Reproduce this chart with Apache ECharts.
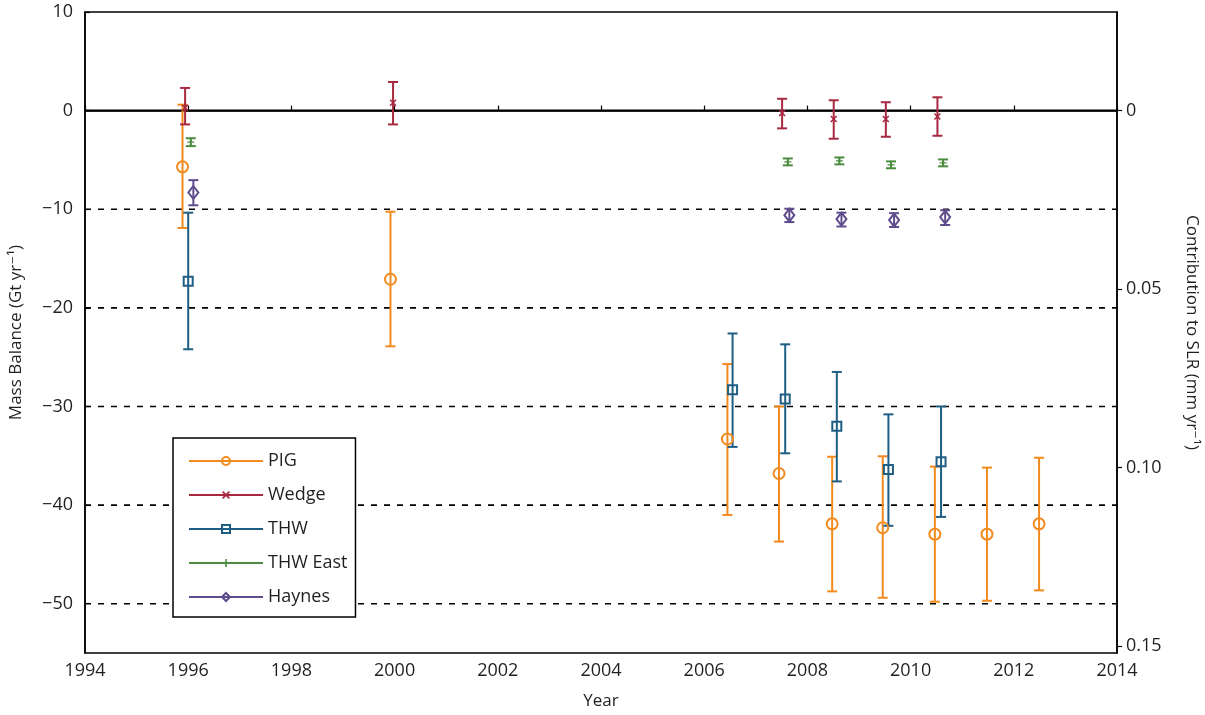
<!DOCTYPE html>
<html>
<head>
<meta charset="utf-8">
<script src="https://cdn.jsdelivr.net/npm/echarts@6/dist/echarts.min.js"></script>
<style>html,body{margin:0;padding:0;background:#fff}#c{width:1205px;height:715px}</style>
</head>
<body>
<div id="c"></div>
<script>
// ---- data ----
const pigYear = [1995.89, 1999.92, 2006.45, 2007.45, 2008.48, 2009.46, 2010.47, 2011.48, 2012.49];
const pigMB   = [-5.7, -17.1, -33.3, -36.8, -41.9, -42.3, -42.95, -42.95, -41.9];
const pigHi   = [0.6, -10.25, -25.7, -30.0, -35.1, -35.05, -36.1, -36.2, -35.2];
const pigLo   = [-11.9, -23.9, -41.0, -43.7, -48.75, -49.4, -49.8, -49.7, -48.65];

const wedgeYear = [1995.94, 1999.97, 2007.51, 2008.51, 2009.52, 2010.52];
const wedgeMB   = [0.3, 0.8, -0.25, -0.85, -0.85, -0.6];
const wedgeHi   = [2.3, 2.9, 1.2, 1.05, 0.85, 1.35];
const wedgeLo   = [-1.4, -1.4, -1.8, -2.85, -2.65, -2.55];

const thwYear = [1996.0, 2006.55, 2007.57, 2008.57, 2009.57, 2010.59];
const thwMB   = [-17.3, -28.3, -29.25, -32.0, -36.4, -35.6];
const thwHi   = [-10.35, -22.6, -23.7, -26.5, -30.8, -30.0];
const thwLo   = [-24.2, -34.1, -34.75, -37.6, -42.1, -41.2];

const eastYear = [1996.05, 2007.62, 2008.62, 2009.62, 2010.63];
const eastMB   = [-3.2, -5.2, -5.1, -5.5, -5.3];
const eastHi   = [-2.8, -4.85, -4.75, -5.15, -4.95];
const eastLo   = [-3.6, -5.55, -5.45, -5.85, -5.65];

const haynesYear = [1996.1, 2007.65, 2008.66, 2009.68, 2010.67];
const haynesMB   = [-8.3, -10.6, -11.0, -11.1, -10.8];
const haynesHi   = [-7.05, -9.95, -10.35, -10.4, -10.1];
const haynesLo   = [-9.6, -11.3, -11.75, -11.8, -11.6];

const seriesNames = ['PIG', 'Wedge', 'THW', 'THW East', 'Haynes'];
const xTicks = [1994, 1996, 1998, 2000, 2002, 2004, 2006, 2008, 2010, 2012, 2014];
const yTicks = [10, 0, -10, -20, -30, -40, -50];
const gridVals = [0, -10, -20, -30, -40, -50];
const slrTicks = [0, 0.05, 0.10, 0.15];
const GT_PER_MM = 362; // Gt of ice per mm of sea level
const yMin = -55, yMax = 10;

// ---- styling ----
const colors = {PIG:'#F28A1E', Wedge:'#A82840', THW:'#1E5E82', 'THW East':'#4C8C40', Haynes:'#5E4C8C'};
const FONT = '"Open Sans", "DejaVu Sans", sans-serif';
const TXT = '#231f20';

const groups = [
  {name:'PIG', x:pigYear, y:pigMB, hi:pigHi, lo:pigLo, symbol:'circle', size:11, hollow:true},
  {name:'Wedge', x:wedgeYear, y:wedgeMB, hi:wedgeHi, lo:wedgeLo,
   symbol:'path://M1.5,0L5,3.5L8.5,0L10,1.5L6.5,5L10,8.5L8.5,10L5,6.5L1.5,10L0,8.5L3.5,5L0,1.5Z', size:7, hollow:false},
  {name:'THW', x:thwYear, y:thwMB, hi:thwHi, lo:thwLo, symbol:'rect', size:9, hollow:true},
  {name:'THW East', x:eastYear, y:eastMB, hi:eastHi, lo:eastLo,
   symbol:'path://M4,0h2v4h4v2h-4v4h-2v-4h-4v-2h4z', size:7, hollow:false},
  {name:'Haynes', x:haynesYear, y:haynesMB, hi:haynesHi, lo:haynesLo, symbol:'diamond', size:[10,13], hollow:true}
];

function markerStyle(g) {
  const c = colors[g.name];
  return g.hollow ? {color:'rgba(0,0,0,0)', borderColor:c, borderWidth:2} : {color:c, borderWidth:0};
}

const series = [];
// grid reference lines (zero solid, others dashed)
series.push({
  type:'custom', name:'_grid', silent:true, z:1,
  data: gridVals.map(v => [xTicks[0], v]),
  renderItem: function(params, api) {
    const cs = params.coordSys;
    const y = api.coord([xTicks[0], api.value(1)])[1];
    const zero = api.value(1) === 0;
    return {type:'line', shape:{x1:cs.x, y1:y, x2:cs.x+cs.width, y2:y},
      style:{stroke:'#000', lineWidth: zero ? 2 : 1.6, lineDash: zero ? null : [6,7]}};
  }
});

groups.forEach(g => {
  const c = colors[g.name];
  series.push({
    type:'custom', name:g.name + '_err', silent:true, z:3,
    data: g.x.map((xv,i) => [xv, g.hi[i], g.lo[i]]),
    encode:{x:0, y:[1,2]},
    renderItem: function(params, api) {
      const p1 = api.coord([api.value(0), api.value(1)]);
      const p2 = api.coord([api.value(0), api.value(2)]);
      const w = 5;
      const st = {stroke:c, lineWidth:2};
      return {type:'group', children:[
        {type:'line', shape:{x1:p1[0], y1:p1[1], x2:p2[0], y2:p2[1]}, style:st},
        {type:'line', shape:{x1:p1[0]-w, y1:p1[1], x2:p1[0]+w, y2:p1[1]}, style:st},
        {type:'line', shape:{x1:p2[0]-w, y1:p2[1], x2:p2[0]+w, y2:p2[1]}, style:st}
      ]};
    }
  });
  series.push({
    type:'line', name:g.name, z:4,
    data: g.x.map((xv,i) => [xv, g.y[i]]),
    symbol:g.symbol, symbolSize:g.size, showSymbol:true, showAllSymbol:true,
    lineStyle:{color:c, opacity:0, width:0},
    itemStyle: markerStyle(g),
    emphasis:{disabled:true},
    animation:false
  });
});

const chart = echarts.init(document.getElementById('c'), null, {renderer:'canvas'});
chart.setOption({
  animation:false,
  backgroundColor:'#fff',
  textStyle:{fontFamily:FONT},
  grid:{left:85, right:88, top:12, bottom:62, outerBoundsMode:'none', containLabel:false,
        show:true, borderColor:'#000', borderWidth:1.5, backgroundColor:'transparent'},
  legend:{
    orient:'vertical', left:173, top:438,
    backgroundColor:'#fff', borderColor:'#000', borderWidth:1.5,
    padding:[13, 8, 10, 15], itemGap:14, itemWidth:74, itemHeight:10,
    textStyle:{fontSize:18, lineHeight:20, color:TXT, fontFamily:FONT},
    data: groups.map(g => ({
      name:g.name,
      lineStyle:{color:colors[g.name], width:2, opacity:1},
      itemStyle: markerStyle(g)
    }))
  },
  xAxis:{
    type:'value', min:xTicks[0], max:xTicks[xTicks.length-1], interval:2,
    name:'Year', nameLocation:'middle', nameGap:40,
    nameTextStyle:{fontSize:17, color:TXT, fontFamily:FONT},
    axisLine:{show:true, lineStyle:{color:'#000', width:1.5}},
    axisTick:{show:true, inside:true, length:5, lineStyle:{color:'#000', width:1.2}},
    axisLabel:{fontSize:18, color:TXT, margin:9, fontFamily:FONT, formatter: v => String(v)},
    splitLine:{show:false}
  },
  yAxis:[{
    type:'value', min:yMin, max:yMax, position:'left',
    name:'Mass Balance (Gt yr\u207B\u00B9)', nameLocation:'middle', nameGap:60, nameRotate:90,
    nameTextStyle:{fontSize:17, color:TXT, fontFamily:FONT},
    axisLine:{show:true, lineStyle:{color:'#000', width:1.5}},
    axisTick:{show:true, inside:true, length:5, customValues:yTicks, lineStyle:{color:'#000', width:1.2}},
    axisLabel:{fontSize:18, color:TXT, margin:12, fontFamily:FONT, customValues:yTicks,
      formatter: v => v < 0 ? '\u2212' + Math.abs(v) : String(v)},
    splitLine:{show:false}
  },{
    type:'value', inverse:true, min:-yMax/GT_PER_MM, max:-yMin/GT_PER_MM, position:'right',
    name:'Contribution to SLR (mm yr\u207B\u00B9)', nameLocation:'middle', nameGap:66, nameRotate:-90,
    nameTextStyle:{fontSize:17, color:TXT, fontFamily:FONT},
    axisLine:{show:true, lineStyle:{color:'#000', width:1.5}},
    axisTick:{show:true, inside:false, length:5, customValues:slrTicks, lineStyle:{color:'#000', width:1.2}},
    axisLabel:{fontSize:18, color:TXT, margin:9, fontFamily:FONT, customValues:slrTicks,
      formatter: v => Math.abs(v) < 1e-9 ? '0' : v.toFixed(2)},
    splitLine:{show:false}
  }],
  series: series
});
</script>
</body>
</html>
